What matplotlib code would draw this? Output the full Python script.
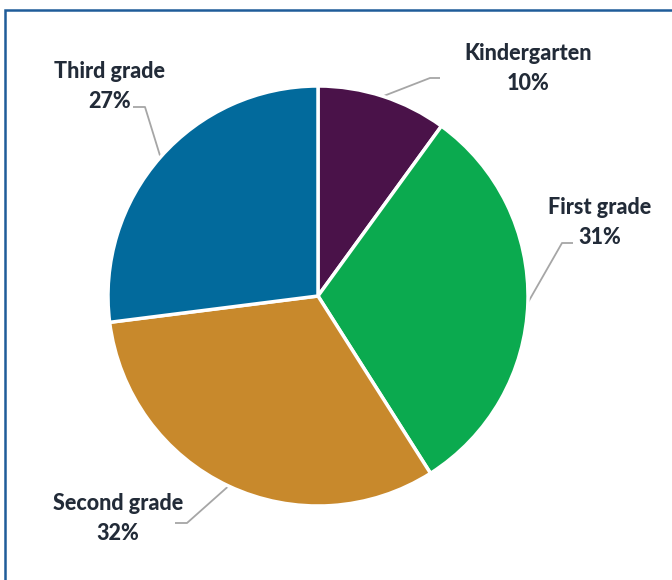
import matplotlib
matplotlib.use("Agg")
import matplotlib.pyplot as plt
from matplotlib.patches import Rectangle
import numpy as np

# data
grades = ["Kindergarten", "First grade", "Second grade", "Third grade"]
shares = [10, 31, 32, 27]
colors = ["#4A1249", "#0BAA4F", "#C8892C", "#026A9C"]

TEXT_COLOR = "#222B38"
LINE_COLOR = "#A6A6A6"

W, H = 672, 580
fig = plt.figure(figsize=(W / 100, H / 100), dpi=100)
ax = fig.add_axes([0, 0, 1, 1])

# frame (only top and left edges visible in the crop)
fig.patches.append(Rectangle((5 / W, -0.1), 1.2, 1 - 10 / H + 0.1, transform=fig.transFigure,
                             fill=False, edgecolor="#1F5C99", linewidth=1.8))

cx, cy, r = 318, H - 296, 210
wedges, _ = ax.pie(shares, colors=colors, startangle=90, counterclock=False,
                   center=(cx, cy), radius=r, frame=True,
                   wedgeprops=dict(edgecolor="white", linewidth=2.5))
ax.set_xlim(0, W)
ax.set_ylim(0, H)
ax.axis("off")

# label layout: text centre, elbow point, end of horizontal leg (pixels from top-left)
label_pos = [(528, 69), (600, 223), (118, 518), (110, 86)]
elbows = [(430, 78), (562, 243), (187, 523), (145, 107)]
ends = [(440, 78), (573, 243), (175, 523), (133, 107)]

font = dict(ha="center", va="center", fontsize=15.5, fontweight=900,
            family=["Lato", "DejaVu Sans"], color=TEXT_COLOR)

for w, name, val, (tx, ty), (ex, ey), (hx, hy) in zip(wedges, grades, shares, label_pos, elbows, ends):
    mid = np.deg2rad((w.theta1 + w.theta2) / 2)
    px, py = cx + r * np.cos(mid), cy + r * np.sin(mid)
    ax.plot([px, ex, hx], [py, H - ey, H - hy], color=LINE_COLOR, linewidth=1.3,
            solid_capstyle="butt", zorder=0)
    ax.text(tx, H - (ty - 15), name, **font)
    ax.text(tx, H - (ty + 15), f"{val}%", **font)

fig.savefig("out.png", dpi=100)
